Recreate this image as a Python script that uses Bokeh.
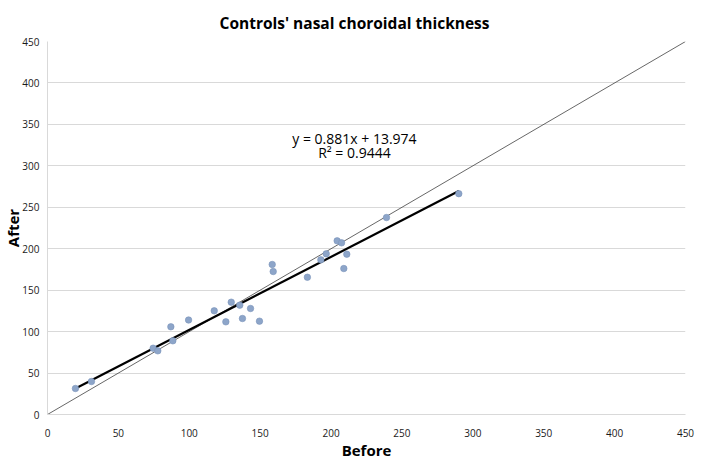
from bokeh.plotting import figure
from bokeh.models import Range1d, FixedTicker, Label, ColumnDataSource
from bokeh.embed import file_html
from bokeh.resources import INLINE

# Data
before = [19.7, 31.0, 74.5, 77.8, 88.4, 87.0, 99.5, 117.6, 125.8, 129.6, 135.6, 137.5,
          143.2, 149.5, 158.5, 159.2, 183.3, 192.8, 196.6, 204.3, 207.4, 211.1, 209.0,
          239.1, 290.1]
after = [31.4, 39.8, 80.0, 76.8, 88.9, 105.8, 114.0, 125.1, 111.8, 135.5, 131.9, 115.8,
         127.9, 112.6, 181.0, 172.5, 165.6, 186.6, 193.8, 209.5, 207.1, 193.4, 176.1,
         237.6, 266.4]
slope = 0.881
intercept = 13.974
r_squared = 0.9444
ticks = [0, 50, 100, 150, 200, 250, 300, 350, 400, 450]
identity_x = [0, 450]
identity_y = [0, 450]
x_title = "Before"
y_title = "After"

trend_x = [min(before), max(before)]
trend_y = [slope * v + intercept for v in trend_x]

FONT = "Open Sans"

p = figure(width=708, height=463, output_backend="svg", toolbar_location=None,
           x_range=Range1d(0, 450), y_range=Range1d(0, 450),
           min_border_left=47, min_border_right=23, min_border_top=41,
           min_border_bottom=49, background_fill_color="white",
           border_fill_color="white", outline_line_color=None)

p.title.text = "Controls' nasal choroidal thickness"
p.title.align = "left"
p.title.offset = 172
p.title.text_font = FONT
p.title.text_font_size = "15.5px"
p.title.text_font_style = "bold"
p.title.text_color = "#000000"
p.title.standoff = 16

for ax in (p.xaxis[0], p.yaxis[0]):
    ax.ticker = FixedTicker(ticks=ticks)
    ax.major_tick_out = 0
    ax.major_tick_in = 0
    ax.minor_tick_out = 0
    ax.minor_tick_in = 0
    ax.axis_line_color = "#D9D9D9"
    ax.major_label_text_font = FONT
    ax.major_label_text_font_size = "10px"
    ax.major_label_text_color = "#1a1a1a"
    ax.axis_label_text_font = FONT
    ax.axis_label_text_font_size = "15px"
    ax.axis_label_text_font_style = "bold"
    ax.axis_label_text_color = "#000000"

p.xaxis.axis_label = x_title
p.yaxis.axis_label = y_title
p.xaxis.major_label_standoff = 14
p.xaxis.axis_label_standoff = 0
p.yaxis.major_label_standoff = 8
p.yaxis.axis_label_standoff = -4

p.xgrid.grid_line_color = None
p.ygrid.ticker = FixedTicker(ticks=ticks)
p.ygrid.grid_line_color = "#D9D9D9"
p.ygrid.grid_line_width = 1

# identity line
p.line(identity_x, identity_y, line_color="#404040", line_width=0.8)
# trend line
p.line(trend_x, trend_y, line_color="#000000", line_width=2.2)
# points
src = ColumnDataSource(data=dict(before=before, after=after))
p.scatter("before", "after", source=src, size=6.5, fill_color="#8DA5C9",
          line_color="#7A93BB", line_width=0.6)

eq_x = 216.5
p.add_layout(Label(x=eq_x, y=333, text=f"y = {slope}x + {intercept}",
                   text_align="center", text_baseline="middle",
                   text_font=FONT, text_font_size="14px", text_color="#000000"))
p.add_layout(Label(x=eq_x, y=315.5, text=f"R\u00b2 = {r_squared}",
                   text_align="center", text_baseline="middle",
                   text_font=FONT, text_font_size="14px", text_color="#000000"))

open("out.html", "w").write(file_html(p, INLINE))
